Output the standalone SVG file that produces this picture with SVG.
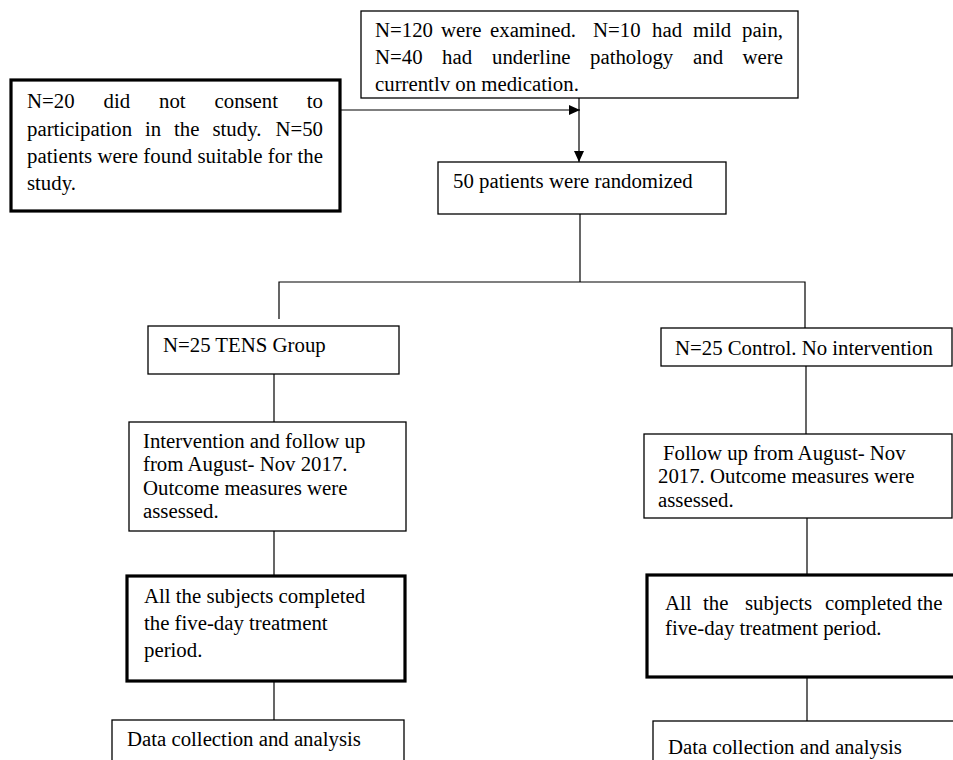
<svg xmlns="http://www.w3.org/2000/svg" width="953" height="760" viewBox="0 0 953 760">
<style>
  text { font-family: "Liberation Serif", "Times New Roman", serif; font-size: 20.8px; fill: #000; }
  .box { fill: #fff; stroke: #000; stroke-width: 1.3; }
  .thick { fill: #fff; stroke: #000; stroke-width: 3.2; }
  .conn { stroke: #000; stroke-width: 1.2; fill: none; }
</style>
<defs>
  <marker id="arrow" viewBox="0 0 11 10" refX="11" refY="5" markerWidth="11" markerHeight="10" markerUnits="userSpaceOnUse" orient="auto">
    <path d="M0,0 L11,5 L0,10 Z" fill="#000"/>
  </marker>
</defs>
<rect width="953" height="760" fill="#fff"/>

<g id="connectors">
  <line class="conn" x1="340" y1="110" x2="580" y2="110" marker-end="url(#arrow)"/>
  <line class="conn" x1="579" y1="98" x2="579" y2="162" marker-end="url(#arrow)"/>
  <line class="conn" x1="580" y1="214" x2="580" y2="282"/>
  <polyline class="conn" points="279,319 279,282 805,282 805,328"/>
  <line class="conn" x1="274" y1="374" x2="274" y2="422"/>
  <line class="conn" x1="806" y1="366" x2="806" y2="434"/>
  <line class="conn" x1="274" y1="531" x2="274" y2="576"/>
  <line class="conn" x1="807" y1="518" x2="807" y2="575"/>
  <line class="conn" x1="274" y1="681" x2="274" y2="720"/>
  <line class="conn" x1="807" y1="677" x2="807" y2="721"/>
</g>

<g id="examined">
  <rect class="box" x="361" y="11" width="437" height="87"/>
  <text y="37"><tspan x="375">N=120</tspan><tspan x="441">were</tspan><tspan x="490">examined.</tspan><tspan x="593">N=10</tspan><tspan x="652">had</tspan><tspan x="693">mild</tspan><tspan x="783" text-anchor="end">pain,</tspan></text>
  <text y="64"><tspan x="375">N=40</tspan><tspan x="442">had</tspan><tspan x="492">underline</tspan><tspan x="590">pathology</tspan><tspan x="693">and</tspan><tspan x="783" text-anchor="end">were</tspan></text>
  <text x="375" y="91">currentlv on medication.</text>
</g>

<g id="excluded">
  <rect class="thick" x="11" y="80" width="329" height="131"/>
  <text y="108"><tspan x="27">N=20</tspan><tspan x="103.5">did</tspan><tspan x="159">not</tspan><tspan x="214.5">consent</tspan><tspan x="323" text-anchor="end">to</tspan></text>
  <text y="136"><tspan x="27">participation</tspan><tspan x="145">in</tspan><tspan x="174">the</tspan><tspan x="212.5">study.</tspan><tspan x="323" text-anchor="end">N=50</tspan></text>
  <text x="27" y="163" textLength="296" lengthAdjust="spacing">patients were found suitable for the</text>
  <text x="27" y="190">study.</text>
</g>

<g id="randomized">
  <rect class="box" x="438" y="162" width="288" height="52"/>
  <text x="453" y="188">50 patients were randomized</text>
</g>

<g id="tens">
  <rect class="box" x="148" y="326" width="251" height="48"/>
  <text x="163" y="352">N=25 TENS Group</text>
</g>

<g id="control">
  <rect class="box" x="661" y="328" width="291" height="38"/>
  <text x="675" y="355">N=25 Control. No intervention</text>
</g>

<g id="intervention">
  <rect class="box" x="129" y="422" width="277" height="109"/>
  <text x="143" y="448">Intervention and follow up</text>
  <text x="143" y="471">from August- Nov 2017.</text>
  <text x="143" y="495">Outcome measures were</text>
  <text x="143" y="518">assessed.</text>
</g>

<g id="followup">
  <rect class="box" x="644" y="434" width="308" height="84"/>
  <text x="663" y="460">Follow up from August- Nov</text>
  <text x="658" y="483">2017. Outcome measures were</text>
  <text x="658" y="507">assessed.</text>
</g>

<g id="completed-left">
  <rect class="thick" x="127" y="576" width="278" height="105"/>
  <text x="144" y="603">All the subjects completed</text>
  <text x="144" y="630">the five-day treatment</text>
  <text x="144" y="657">period.</text>
</g>

<g id="completed-right">
  <rect class="thick" x="647" y="575" width="320" height="102"/>
  <text y="610"><tspan x="665">All</tspan><tspan x="703">the</tspan><tspan x="745">subjects</tspan><tspan x="825">completed</tspan><tspan x="917">the</tspan></text>
  <text x="665" y="635">five-day treatment period.</text>
</g>

<g id="data-left">
  <rect class="box" x="112" y="720" width="292" height="60"/>
  <text x="127" y="746">Data collection and analysis</text>
</g>

<g id="data-right">
  <rect class="box" x="653" y="721" width="320" height="60"/>
  <text x="668" y="754">Data collection and analysis</text>
</g>
</svg>
